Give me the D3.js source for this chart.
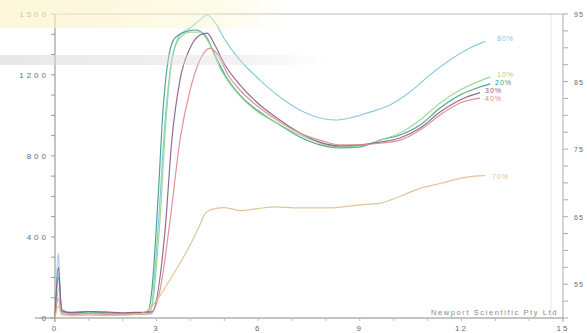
<!DOCTYPE html>
<html><head><meta charset="utf-8">
<script src="https://cdn.jsdelivr.net/npm/d3@7/dist/d3.min.js"></script>
<style>
html,body{margin:0;padding:0;background:#fff;}
svg{display:block;font-family:"Liberation Sans",Arial,sans-serif;}
</style></head>
<body><svg id="c" width="587" height="333"></svg>
<script>
// ---- data (time in minutes, viscosity in cP) ----
const xTicks = [0, 3, 6, 9, 12, 15];
const yTicks = [0, 400, 800, 1200, 1500];
const tempTicks = [55, 65, 75, 85, 95];

const cyanT = [0, 0.1, 0.16, 0.22, 0.5, 1, 1.5, 2, 2.5, 2.81, 3.04, 3.25, 3.45, 3.69, 3.99, 4.28, 4.49, 4.72, 5.02, 5.46, 6.05, 6.64, 7.23, 7.82, 8.27, 8.71, 9.3, 9.89, 10.48, 11.07, 11.66, 12.25, 12.7];
const cyanV = [0, 320, 90, 40, 22, 26, 24, 22, 26, 30, 434, 977, 1273, 1396, 1431, 1470, 1495, 1460, 1372, 1273, 1174, 1090, 1026, 987, 977, 987, 1016, 1051, 1115, 1199, 1273, 1332, 1365];

const tealT = [0, 0.1, 0.2, 0.5, 1, 1.5, 2, 2.5, 2.75, 2.86, 3.04, 3.19, 3.34, 3.54, 3.84, 4.13, 4.43, 4.72, 5.02, 5.46, 6.05, 6.64, 7.23, 7.82, 8.42, 9.01, 9.6, 10.19, 10.78, 11.37, 11.96, 12.55, 12.85];
const tealV = [0, 200, 40, 25, 30, 26, 22, 25, 30, 138, 582, 1026, 1273, 1382, 1411, 1421, 1396, 1298, 1199, 1100, 1016, 952, 893, 854, 839, 844, 878, 903, 952, 1036, 1100, 1140, 1155];

const greenT = [0, 0.12, 0.2, 0.5, 1, 1.5, 2, 2.5, 2.81, 3.1, 3.28, 3.45, 3.69, 3.99, 4.28, 4.58, 4.87, 5.31, 5.91, 6.5, 7.23, 7.82, 8.42, 9.01, 9.6, 10.19, 10.78, 11.37, 11.96, 12.55, 12.85];
const greenV = [0, 150, 35, 20, 24, 22, 20, 22, 30, 484, 977, 1273, 1382, 1411, 1411, 1347, 1234, 1125, 1026, 967, 903, 863, 844, 849, 878, 913, 977, 1061, 1125, 1170, 1190];

const purpleT = [0, 0.1, 0.2, 0.5, 1, 1.5, 2, 2.5, 2.86, 3.25, 3.45, 3.69, 3.99, 4.28, 4.49, 4.72, 5.02, 5.46, 6.05, 6.64, 7.23, 7.82, 8.42, 9.01, 9.6, 10.19, 10.78, 11.37, 11.96, 12.55];
const purpleV = [0, 250, 30, 28, 32, 30, 26, 28, 30, 434, 878, 1174, 1332, 1396, 1406, 1347, 1248, 1150, 1051, 977, 913, 868, 849, 854, 868, 888, 937, 1016, 1076, 1112];

const redT = [0, 0.1, 0.2, 0.5, 1, 1.5, 2, 2.5, 2.81, 3.1, 3.4, 3.69, 3.99, 4.28, 4.58, 4.81, 5.11, 5.46, 6.05, 6.64, 7.23, 7.82, 8.42, 9.01, 9.6, 10.19, 10.78, 11.37, 11.96, 12.55];
const redV = [0, 100, 20, 18, 20, 18, 16, 18, 20, 138, 484, 878, 1125, 1273, 1332, 1298, 1199, 1125, 1036, 967, 913, 878, 854, 854, 863, 878, 928, 1002, 1061, 1085];

const orangeT = [0, 0.1, 0.2, 0.5, 1, 1.5, 2, 2.5, 2.81, 3.1, 3.4, 3.69, 3.99, 4.28, 4.43, 4.6, 5.0, 5.5, 6.0, 6.5, 7.2, 8.1, 9.0, 9.6, 10.2, 10.8, 11.4, 12.0, 12.4, 12.7];
const orangeV = [0, 60, 15, 12, 14, 12, 14, 20, 50, 110, 190, 270, 360, 460, 515, 535, 545, 530, 540, 548, 543, 543, 558, 567, 601, 641, 665, 690, 700, 703];

const seriesNames = ["80%", "20%", "10%", "30%", "40%", "70%"];
const seriesColors = ["#7fc6dc", "#3c9a88", "#92d892", "#8a5a86", "#d98a8a", "#dcc08c"];

// ---- chart ----
const svg = d3.select("#c");
const x = d3.scaleLinear().domain([0, 15]).range([55, 563]);
const y = d3.scaleLinear().domain([0, 1500]).range([318, 14]);
const yT = d3.scaleLinear().domain([50, 95]).range([318, 14]);

const series = [
  {t: cyanT, v: cyanV}, {t: tealT, v: tealV}, {t: greenT, v: greenV},
  {t: purpleT, v: purpleV}, {t: redT, v: redV}, {t: orangeT, v: orangeV}
].map((s, i) => ({name: seriesNames[i], color: seriesColors[i], pts: s.t.map((t, j) => [t, s.v[j]])}));

// faint inner vertical line near right edge
svg.append("line").attr("x1", 551).attr("x2", 551).attr("y1", 14).attr("y2", 318)
  .attr("stroke", "#e4e4e4").attr("stroke-width", 1);

// axes
const axCol = "#8a8a8a", txtCol = "#6a6a6a";
svg.append("line").attr("x1", x(0)).attr("x2", x(15)).attr("y1", y(1500)).attr("y2", y(1500)).attr("stroke", "#bbb");
svg.append("line").attr("x1", 35).attr("x2", x(15)).attr("y1", y(0)).attr("y2", y(0)).attr("stroke", axCol);
svg.append("line").attr("x1", x(0)).attr("x2", x(0)).attr("y1", y(1500)).attr("y2", 322).attr("stroke", axCol);
svg.append("line").attr("x1", x(15)).attr("x2", x(15)).attr("y1", y(1500)).attr("y2", 322).attr("stroke", "#aaa");

// left ticks
const yMinor = d3.range(0, 1501, 100);
svg.selectAll(".ylt").data(yMinor).join("line")
  .attr("x1", x(0) - 4).attr("x2", x(0)).attr("y1", d => y(d)).attr("y2", d => y(d))
  .attr("stroke", "#999");
svg.selectAll(".yl").data(yTicks).join("text")
  .attr("x", 49).attr("y", d => y(d) + 3).attr("text-anchor", "end")
  .attr("font-size", 8).attr("letter-spacing", 3).attr("fill", txtCol).text(d => d);

// right ticks (temperature)
const tMinor = d3.range(50, 96, 2.5);
svg.selectAll(".trt").data(tMinor).join("line")
  .attr("x1", x(15)).attr("x2", x(15) + 5).attr("y1", d => yT(d)).attr("y2", d => yT(d))
  .attr("stroke", "#aaa");
svg.selectAll(".tl").data(tempTicks).join("text")
  .attr("x", 574).attr("y", d => yT(d) + 3)
  .attr("font-size", 7).attr("letter-spacing", 1).attr("fill", txtCol).text(d => d);

// bottom ticks
svg.selectAll(".xmt").data(d3.range(0, 16, 1)).join("line")
  .attr("x1", d => x(d)).attr("x2", d => x(d)).attr("y1", y(0)).attr("y2", y(0) + 3)
  .attr("stroke", "#bbb");
svg.selectAll(".xl").data(xTicks).join("text")
  .attr("x", d => x(d)).attr("y", 331).attr("text-anchor", "middle")
  .attr("font-size", 8).attr("letter-spacing", 2).attr("fill", txtCol).text(d => d);

// watermark text
svg.append("text").attr("x", 558).attr("y", 315).attr("text-anchor", "end")
  .attr("font-size", 7.5).attr("letter-spacing", 1.6).attr("fill", "#8a8a8a")
  .text("Newport Scientific Pty Ltd");

// curves
const line = d3.line().x(d => x(d[0])).y(d => y(d[1])).curve(d3.curveMonotoneX);
svg.selectAll(".s").data(series).join("path")
  .attr("d", d => line(d.pts)).attr("fill", "none")
  .attr("stroke", d => d.color).attr("stroke-width", 1.2).attr("stroke-opacity", 0.9);

// end labels (pixel offsets for legibility)
const labelXY = [[497, 41], [495, 85], [497, 77], [485, 93], [485, 101], [492, 179]];
svg.selectAll(".lab").data(series).join("text")
  .attr("x", (d, i) => labelXY[i][0])
  .attr("y", (d, i) => labelXY[i][1])
  .attr("font-size", 7).attr("letter-spacing", 1)
  .attr("fill", d => d.color).text(d => d.name);

// overlay banding (scan artefacts at top-left)
const defs = svg.append("defs");
const g1 = defs.append("linearGradient").attr("id", "gy").attr("x1", 0).attr("x2", 1);
g1.append("stop").attr("offset", 0).attr("stop-color", "#fbf4c8").attr("stop-opacity", 0.7);
g1.append("stop").attr("offset", 0.75).attr("stop-color", "#fbf4c8").attr("stop-opacity", 0.4);
g1.append("stop").attr("offset", 1).attr("stop-color", "#fbf4c8").attr("stop-opacity", 0);
const g2 = defs.append("linearGradient").attr("id", "gg").attr("x1", 0).attr("x2", 1);
g2.append("stop").attr("offset", 0).attr("stop-color", "#d8d8d8").attr("stop-opacity", 0.6);
g2.append("stop").attr("offset", 0.7).attr("stop-color", "#d8d8d8").attr("stop-opacity", 0.35);
g2.append("stop").attr("offset", 1).attr("stop-color", "#d8d8d8").attr("stop-opacity", 0);
svg.append("rect").attr("x", 0).attr("y", 0).attr("width", 290).attr("height", 28).attr("fill", "url(#gy)");
svg.append("rect").attr("x", 0).attr("y", 55).attr("width", 330).attr("height", 10).attr("fill", "url(#gg)");
</script></body></html>
